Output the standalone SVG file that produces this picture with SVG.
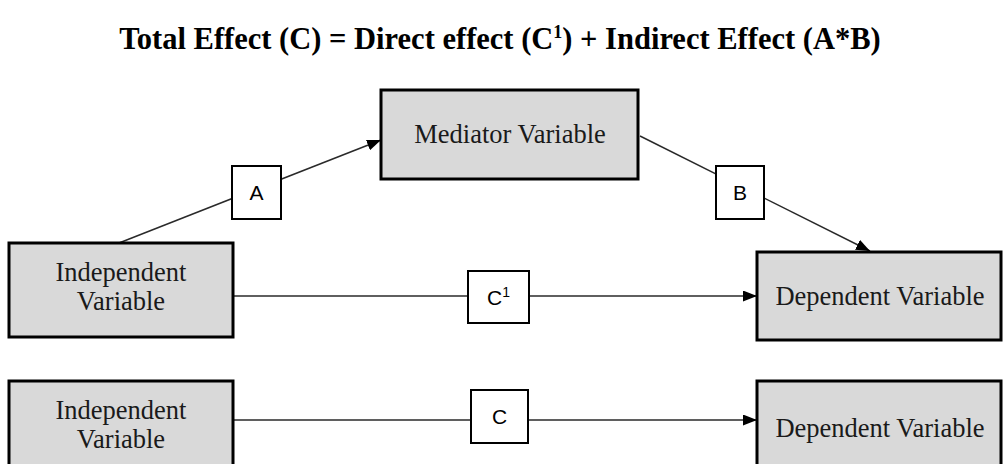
<svg xmlns="http://www.w3.org/2000/svg" width="1003" height="464" viewBox="0 0 1003 464">
<style>
.var{fill:#d9d9d9;stroke:#000;stroke-width:3}
.lab{fill:#fff;stroke:#000;stroke-width:2}
.vt{font-family:"Liberation Serif","Times New Roman",serif;font-size:26.5px;fill:#1a1a1a;text-anchor:middle}
.lt{font-family:"Liberation Sans",Arial,sans-serif;font-size:21px;fill:#000;text-anchor:middle}
.title{font-family:"Liberation Serif","Times New Roman",serif;font-size:30.5px;font-weight:bold;fill:#000;text-anchor:middle}
.conn{stroke:#2a2a2a;stroke-width:1.5;fill:none}
</style>
<defs>
<marker id="arr" viewBox="0 0 14 11" refX="14" refY="5.5" markerWidth="14" markerHeight="11" markerUnits="userSpaceOnUse" orient="auto">
<path d="M0,0 L14,5.5 L0,11 Z" fill="#000"/>
</marker>
</defs>
<rect width="1003" height="464" fill="#fff"/>
<text class="title" x="500" y="49">Total Effect (C) = Direct effect (C<tspan font-size="18" dy="-11">1</tspan><tspan dy="11">) + Indirect Effect (A*B)</tspan></text>
<g id="connectors">
<line class="conn" x1="119" y1="243" x2="381" y2="140" marker-end="url(#arr)"/>
<line class="conn" x1="640" y1="136" x2="870" y2="251" marker-end="url(#arr)"/>
<line class="conn" x1="233" y1="296" x2="757" y2="296" marker-end="url(#arr)"/>
<line class="conn" x1="233" y1="420" x2="757" y2="420" marker-end="url(#arr)"/>
</g>
<g id="mediator">
<rect class="var" x="381" y="90" width="257" height="89"/>
<text class="vt" x="510" y="143">Mediator Variable</text>
</g>
<g id="iv1">
<rect class="var" x="9" y="243" width="224" height="94"/>
<text class="vt" x="121" y="281">Independent</text>
<text class="vt" x="121" y="310">Variable</text>
</g>
<g id="dv1">
<rect class="var" x="757" y="252" width="244" height="88"/>
<text class="vt" x="880" y="305">Dependent Variable</text>
</g>
<g id="iv2">
<rect class="var" x="9" y="381" width="224" height="100"/>
<text class="vt" x="121" y="419">Independent</text>
<text class="vt" x="121" y="448">Variable</text>
</g>
<g id="dv2">
<rect class="var" x="757" y="381" width="244" height="100"/>
<text class="vt" x="880" y="437">Dependent Variable</text>
</g>
<g id="labelA">
<rect class="lab" x="232" y="166" width="49" height="53"/>
<text class="lt" x="256.5" y="200">A</text>
</g>
<g id="labelB">
<rect class="lab" x="716" y="166" width="48" height="53"/>
<text class="lt" x="740" y="200">B</text>
</g>
<g id="labelC1">
<rect class="lab" x="468" y="271" width="61" height="52"/>
<text class="lt" x="498.5" y="304.5">C<tspan font-size="14" dy="-8">1</tspan></text>
</g>
<g id="labelC">
<rect class="lab" x="471" y="390" width="57" height="53"/>
<text class="lt" x="499.5" y="424">C</text>
</g>
</svg>
